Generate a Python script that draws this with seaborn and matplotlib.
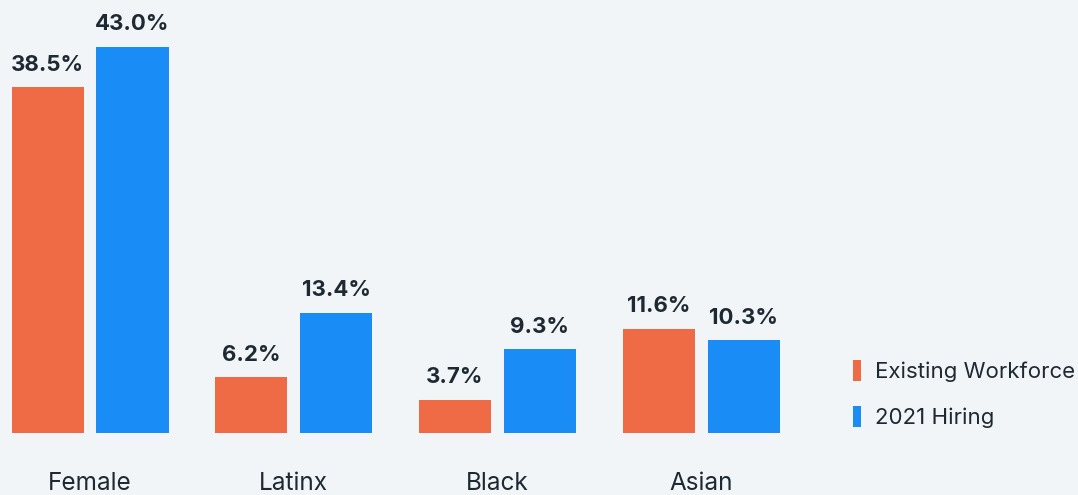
import matplotlib
matplotlib.use("Agg")
import matplotlib.pyplot as plt
import seaborn as sns
import pandas as pd
from matplotlib.patches import Patch

categories = ["Female", "Latinx", "Black", "Asian"]
existing_workforce = [38.5, 6.2, 3.7, 11.6]
hiring_2021 = [43.0, 13.4, 9.3, 10.3]
series_names = ["Existing Workforce", "2021 Hiring"]

bg = "#F1F5F7"
colors = ["#EF6B46", "#1A8CF5"]
text_color = "#1F2933"

df = pd.DataFrame({
    "Category": categories * 2,
    "Value": existing_workforce + hiring_2021,
    "Series": [series_names[0]] * len(categories) + [series_names[1]] * len(categories),
})

sns.set_theme(style="white")
plt.rcParams["font.family"] = ["Inter", "DejaVu Sans"]

fig = plt.figure(figsize=(10.78, 4.95), dpi=100, facecolor=bg)
ax = fig.add_axes([0, (495 - 433) / 495, 1, 433 / 495])
ax.set_facecolor(bg)

sns.barplot(data=df, x="Category", y="Value", hue="Series", order=categories,
            hue_order=series_names, palette=colors, width=0.833, gap=0.15,
            saturation=1, ax=ax, legend=False, edgecolor="none")

for cont in ax.containers:
    ax.bar_label(cont, fmt="%.1f%%", padding=9, fontsize=16, fontweight="bold",
                 color=text_color)

ax.set_xlim(-0.442, 4.85)
ax.set_ylim(0, 48.2)
ax.set_xlabel("")
ax.set_ylabel("")
ax.set_yticks([])
ax.tick_params(axis="x", length=0, pad=28, labelsize=17.5, labelcolor=text_color)
for s in ax.spines.values():
    s.set_visible(False)

handles = [Patch(facecolor=c, edgecolor="none") for c in colors]
leg = ax.legend(handles, series_names, loc="center left",
                bbox_to_anchor=(853 / 1078, 0.09), borderpad=0, borderaxespad=0,
                frameon=False, handlelength=0.38, handleheight=1.1, handletextpad=0.6,
                labelspacing=1.05, fontsize=16)
for t in leg.get_texts():
    t.set_color(text_color)

fig.savefig("out.png", dpi=100, facecolor=bg)
